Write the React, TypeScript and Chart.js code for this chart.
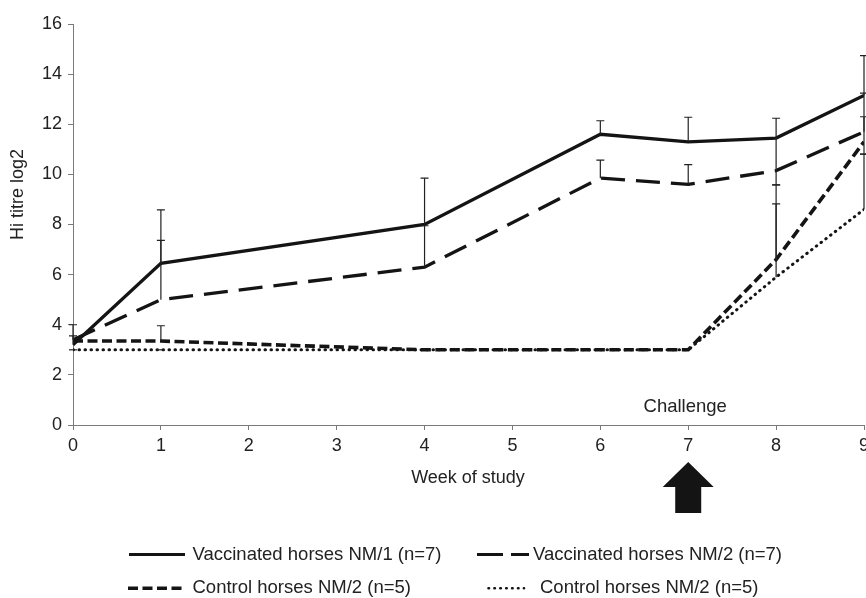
import React, { useEffect, useRef } from "react";
import { Chart, registerables } from "chart.js";

Chart.register(...registerables);

// ---- Data ----
const weeks = [0, 1, 4, 6, 7, 8, 9];
const vaccNM1 = [3.2, 6.45, 8.0, 11.6, 11.3, 11.45, 13.15];
const vaccNM2 = [3.4, 5.0, 6.3, 9.85, 9.6, 10.15, 11.7];
const ctrlDash = [3.35, 3.35, 3.0, 3.0, 3.0, 6.6, 11.3];
const ctrlDot = [3.0, 3.0, 3.0, 3.0, 3.0, 5.9, 8.6];

// error bar ends (absolute values); null = none
const vaccNM1ErrHigh = [4.0, 8.58, 9.85, 12.14, 12.28, 12.24, 14.74];
const vaccNM1ErrLow = [null, null, null, null, null, 9.58, null];
const vaccNM2ErrHigh = [3.56, 7.37, 7.95, 10.57, 10.39, null, 13.24];
const ctrlDashErrHigh = [null, 3.96, null, null, null, 9.58, 12.3];
const ctrlDashErrLow = [null, null, null, null, null, null, 10.81];
const ctrlDotErrHigh = [3.0, 3.0, null, null, null, 8.82, 10.81];

const yTicks = [0, 2, 4, 6, 8, 10, 12, 14, 16];
const xTicks = [0, 1, 2, 3, 4, 5, 6, 7, 8, 9];
const challengeWeek = 7;

const labelNM1 = "Vaccinated horses NM/1 (n=7)";
const labelNM2 = "Vaccinated horses NM/2 (n=7)";
const labelCtrlDash = "Control horses NM/2 (n=5)";
const labelCtrlDot = "Control horses NM/2 (n=5)";

const FONT = "'Liberation Sans', Arial, sans-serif";
const INK = "#141414";
const TEXT = "#222";
const AXIS = "#7a7a7a";

function toPts(vals: number[]) {
  return weeks.map((w, i) => ({ x: w, y: vals[i] }));
}

const errorSets = [
  { high: vaccNM1ErrHigh, low: vaccNM1ErrLow, vals: vaccNM1 },
  { high: vaccNM2ErrHigh, low: null, vals: vaccNM2 },
  { high: ctrlDashErrHigh, low: ctrlDashErrLow, vals: ctrlDash },
  { high: ctrlDotErrHigh, low: null, vals: ctrlDot },
];

const decorPlugin = {
  id: "decor",
  afterDatasetsDraw(chart: any) {
    const ctx = chart.ctx;
    const xs = chart.scales.x;
    const ys = chart.scales.y;
    ctx.save();
    ctx.strokeStyle = "#222";
    ctx.lineWidth = 1.2;
    ctx.setLineDash([]);
    const cap = 4;
    errorSets.forEach((s) => {
      weeks.forEach((w, i) => {
        const px = xs.getPixelForValue(w);
        const base = ys.getPixelForValue(s.vals[i]);
        const ends: (number | null)[] = [s.high[i], s.low ? s.low[i] : null];
        ends.forEach((e) => {
          if (e === null || e === undefined) return;
          const py = ys.getPixelForValue(e);
          ctx.beginPath();
          ctx.moveTo(px, base);
          ctx.lineTo(px, py);
          ctx.moveTo(px - cap, py);
          ctx.lineTo(px + cap, py);
          ctx.stroke();
        });
      });
    });
    ctx.restore();
  },
  afterDraw(chart: any) {
    const ctx = chart.ctx;
    const xs = chart.scales.x;
    const area = chart.chartArea;
    ctx.save();
    ctx.fillStyle = TEXT;

    // y title
    ctx.save();
    ctx.font = `18px ${FONT}`;
    ctx.translate(18, 240);
    ctx.rotate(-Math.PI / 2);
    ctx.textAlign = "left";
    ctx.textBaseline = "middle";
    ctx.fillText("Hi titre log2", 0, 0);
    ctx.restore();

    // x title
    ctx.font = `18px ${FONT}`;
    ctx.textAlign = "center";
    ctx.textBaseline = "middle";
    ctx.fillText("Week of study", 468, area.bottom + 53);

    // Challenge label and arrow
    const cx = xs.getPixelForValue(challengeWeek);
    ctx.font = `18.5px ${FONT}`;
    ctx.fillText("Challenge", cx - 3, area.bottom - 18);

    ctx.fillStyle = INK;
    ctx.beginPath();
    ctx.moveTo(cx, area.bottom + 37);
    ctx.lineTo(cx + 25.5, area.bottom + 62);
    ctx.lineTo(cx + 13, area.bottom + 62);
    ctx.lineTo(cx + 13, area.bottom + 88);
    ctx.lineTo(cx - 13, area.bottom + 88);
    ctx.lineTo(cx - 13, area.bottom + 62);
    ctx.lineTo(cx - 25.5, area.bottom + 62);
    ctx.closePath();
    ctx.fill();

    // legend
    const drawSample = (x1: number, x2: number, y: number, dash: number[], w: number, capStyle: CanvasLineCap) => {
      ctx.save();
      ctx.strokeStyle = INK;
      ctx.lineWidth = w;
      ctx.lineCap = capStyle;
      ctx.setLineDash(dash);
      ctx.beginPath();
      ctx.moveTo(x1, y);
      ctx.lineTo(x2, y);
      ctx.stroke();
      ctx.restore();
    };
    const r1 = 554.5;
    const r2 = 588.3;
    drawSample(129, 185, r1, [], 3.2, "butt");
    drawSample(477, 529, r1, [26, 8], 3.2, "butt");
    drawSample(128, 184, r2, [10, 4.5], 3.6, "butt");
    drawSample(488.5, 524, r2, [0.5, 5.4], 2.6, "round");

    ctx.font = `18.5px ${FONT}`;
    ctx.textAlign = "left";
    ctx.textBaseline = "middle";
    ctx.fillStyle = TEXT;
    ctx.fillText(labelNM1, 192.5, r1);
    ctx.fillText(labelNM2, 533, r1);
    ctx.fillText(labelCtrlDash, 192.5, r2);
    ctx.fillText(labelCtrlDot, 540, r2);

    ctx.restore();
  },
};

export default function App() {
  const canvasRef = useRef<HTMLCanvasElement | null>(null);

  useEffect(() => {
    if (!canvasRef.current) return;
    const chart = new Chart(canvasRef.current, {
      type: "line",
      data: {
        datasets: [
          {
            label: labelNM1,
            data: toPts(vaccNM1),
            borderColor: INK,
            borderWidth: 3.3,
            pointRadius: 0,
            tension: 0,
            fill: false,
          },
          {
            label: labelNM2,
            data: toPts(vaccNM2),
            borderColor: INK,
            borderWidth: 3.3,
            borderDash: [24, 11],
            pointRadius: 0,
            tension: 0,
            fill: false,
          },
          {
            label: labelCtrlDash,
            data: toPts(ctrlDash),
            borderColor: INK,
            borderWidth: 3.6,
            borderDash: [10, 4.5],
            pointRadius: 0,
            tension: 0,
            fill: false,
          },
          {
            label: labelCtrlDot,
            data: toPts(ctrlDot),
            borderColor: INK,
            borderWidth: 3,
            borderDash: [0.5, 5.5],
            borderCapStyle: "round",
            pointRadius: 0,
            tension: 0,
            fill: false,
          },
        ],
      },
      options: {
        animation: false,
        responsive: true,
        maintainAspectRatio: false,
        layout: { padding: { top: 24, right: 2, left: 0, bottom: 0 } },
        plugins: {
          legend: { display: false },
          tooltip: { enabled: false },
        },
        scales: {
          x: {
            type: "linear",
            min: 0,
            max: 9,
            afterBuildTicks: (s: any) => {
              s.ticks = xTicks.map((v) => ({ value: v }));
            },
            afterFit: (s: any) => {
              s.height = 173;
              s.paddingRight = 0;
              s.paddingLeft = 0;
            },
            ticks: {
              color: TEXT,
              font: { family: FONT, size: 18 },
              padding: 5,
              maxRotation: 0,
              autoSkip: false,
            },
            grid: {
              drawOnChartArea: false,
              drawTicks: true,
              tickLength: 5,
              color: AXIS,
            },
            border: { color: AXIS, width: 1 },
          },
          y: {
            type: "linear",
            min: 0,
            max: 16,
            afterBuildTicks: (s: any) => {
              s.ticks = yTicks.map((v) => ({ value: v }));
            },
            afterFit: (s: any) => {
              s.width = 73;
              s.paddingTop = 0;
              s.paddingBottom = 0;
            },
            ticks: {
              color: TEXT,
              font: { family: FONT, size: 18 },
              padding: 6,
              autoSkip: false,
            },
            grid: {
              drawOnChartArea: false,
              drawTicks: true,
              tickLength: 5,
              color: AXIS,
            },
            border: { color: AXIS, width: 1 },
          },
        },
      },
      plugins: [decorPlugin],
    } as any);
    return () => chart.destroy();
  }, []);

  return (
    <div
      style={{
        position: "fixed",
        left: 0,
        top: 0,
        width: 866,
        height: 598,
        background: "#fff",
      }}
    >
      <canvas ref={canvasRef} />
    </div>
  );
}
